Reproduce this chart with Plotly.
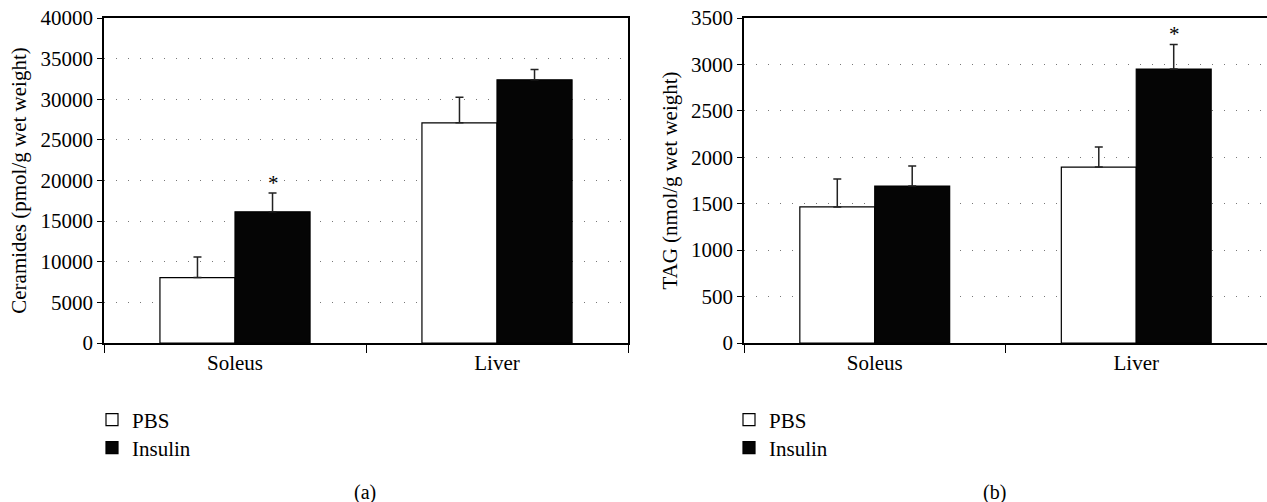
import plotly.graph_objects as go

categories = ["Soleus", "Liver"]
series_names = ["PBS", "Insulin"]

cer_pbs = [8050, 27100]
cer_pbs_err = [2550, 3150]
cer_ins = [16150, 32400]
cer_ins_err = [2300, 1250]

tag_pbs = [1465, 1895]
tag_pbs_err = [300, 215]
tag_ins = [1690, 2950]
tag_ins_err = [215, 265]

cer_ticks = [0, 5000, 10000, 15000, 20000, 25000, 30000, 35000, 40000]
tag_ticks = [0, 500, 1000, 1500, 2000, 2500, 3000, 3500]

FONT = "Liberation Serif"
FS = 21
W, H = 1267, 502

fig = go.Figure()

def add_bars(xa, ya, pbs, pbs_err, ins, ins_err, leg_a, leg_b):
    fig.add_trace(go.Bar(
        x=categories, y=pbs, name=series_names[0], xaxis=xa, yaxis=ya,
        marker=dict(color="white", line=dict(color="black", width=1.2)),
        error_y=dict(type="data", array=pbs_err, arrayminus=[0, 0], symmetric=False,
                     color="#222", thickness=1.5, width=4),
        legend=leg_a,
    ))
    fig.add_trace(go.Bar(
        x=categories, y=ins, name=series_names[1], xaxis=xa, yaxis=ya,
        marker=dict(color="#050505", line=dict(color="black", width=1.2)),
        error_y=dict(type="data", array=ins_err, arrayminus=[0, 0], symmetric=False,
                     color="#222", thickness=1.5, width=4),
        legend=leg_b,
    ))

add_bars("x", "y", cer_pbs, cer_pbs_err, cer_ins, cer_ins_err, "legend", "legend2")
add_bars("x2", "y2", tag_pbs, tag_pbs_err, tag_ins, tag_ins_err, "legend3", "legend4")

ydom = [1 - 343 / H, 1 - 18 / H]
xdom1 = [104 / W, 628 / W]
xdom2 = [744 / W, 1.0]

axis_common = dict(showline=True, linecolor="black", linewidth=1.5, mirror=True,
                   automargin=False,
                   tickfont=dict(family=FONT, size=FS, color="black"))

def leg(xpx, ypx):
    return dict(x=xpx / W, y=1 - ypx / H, xanchor="left", yanchor="middle",
                font=dict(family=FONT, size=FS), bgcolor="rgba(0,0,0,0)")

fig.update_layout(
    width=W, height=H,
    margin=dict(l=0, r=0, t=0, b=0, autoexpand=False),
    paper_bgcolor="white", plot_bgcolor="white",
    barmode="group", bargap=0.427, bargroupgap=0,
    font=dict(family=FONT, size=FS, color="black"),
    xaxis=dict(domain=xdom1, anchor="y", ticks="outside", ticklen=8, tickcolor="black",
               tickson="boundaries", showgrid=False, **axis_common),
    yaxis=dict(domain=ydom, anchor="x", range=[0, 40000], tickvals=cer_ticks,
               ticktext=[str(v) for v in cer_ticks],
               ticks="outside", ticklen=5, tickcolor="black",
               showgrid=True, gridcolor="#777", gridwidth=1.2, griddash="1px,11px",
               title=dict(text="Ceramides (pmol/g wet weight)", font=dict(family=FONT, size=FS), standoff=8),
               **axis_common),
    xaxis2=dict(domain=xdom2, anchor="y2", ticks="outside", ticklen=8, tickcolor="black",
                tickson="boundaries", showgrid=False, **axis_common),
    yaxis2=dict(domain=ydom, anchor="x2", range=[0, 3500], tickvals=tag_ticks,
                ticktext=[str(v) for v in tag_ticks],
                ticks="outside", ticklen=5, tickcolor="black",
                showgrid=True, gridcolor="#777", gridwidth=1.2, griddash="1px,11px",
                title=dict(text="TAG (nmol/g wet weight)", font=dict(family=FONT, size=FS), standoff=8),
                **axis_common),
    legend=leg(92, 420),
    legend2=leg(92, 448),
    legend3=leg(729, 420),
    legend4=leg(729, 448),
    showlegend=True,
)

# significance asterisks above insulin bars
fig.add_annotation(x="Soleus", y=cer_ins[0] + cer_ins_err[0], xref="x", yref="y",
                   text="*", showarrow=False, xshift=38, yanchor="bottom", yshift=-4,
                   font=dict(family=FONT, size=FS))
fig.add_annotation(x="Liver", y=tag_ins[1] + tag_ins_err[1], xref="x2", yref="y2",
                   text="*", showarrow=False, xshift=38, yanchor="bottom", yshift=-4,
                   font=dict(family=FONT, size=FS))

# panel captions
fig.add_annotation(x=352 / W, y=1 - 492 / H, xref="paper", yref="paper", text="(a)",
                   showarrow=False, yanchor="middle", font=dict(family=FONT, size=20))
fig.add_annotation(x=1008 / W, y=1 - 492 / H, xref="paper", yref="paper", text="(b)",
                   showarrow=False, yanchor="middle", font=dict(family=FONT, size=20))

fig.write_html("out.html", config={"displayModeBar": False},
               post_script="document.body.style.margin='0';")
